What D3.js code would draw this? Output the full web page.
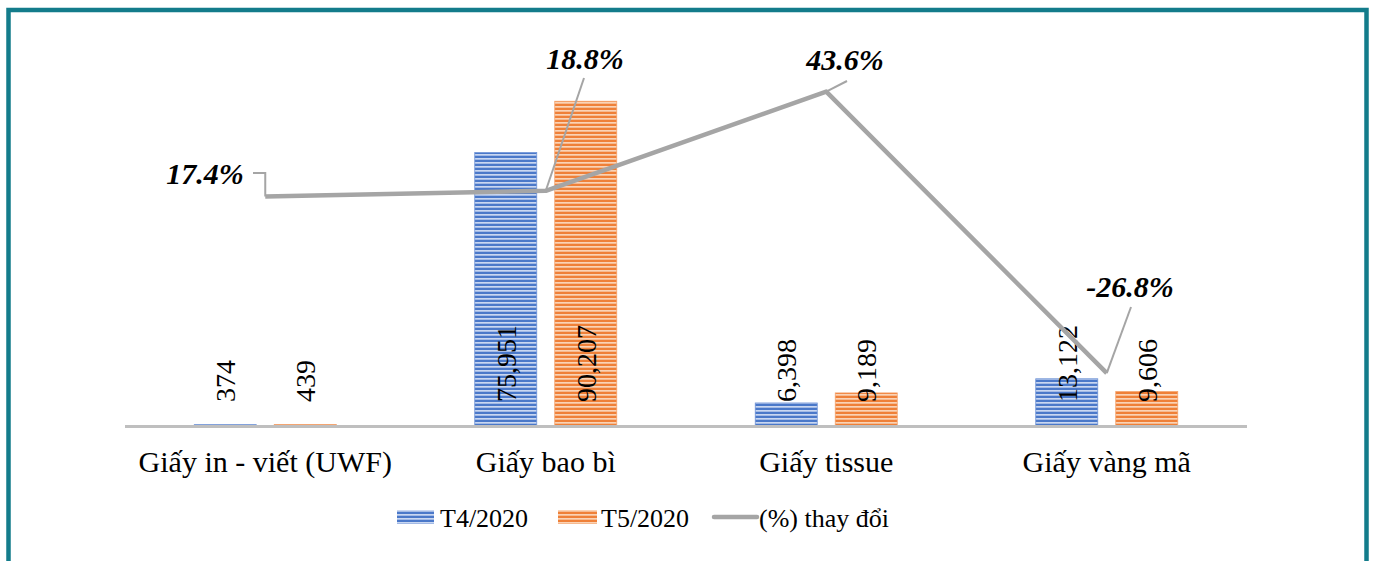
<!DOCTYPE html>
<html>
<head>
<meta charset="utf-8">
<script src="https://cdn.jsdelivr.net/npm/d3@7"></script>
<style>
  body { margin: 0; background: #fff; }
  svg text { font-family: "Liberation Serif", "Times New Roman", serif; fill: #000; }
</style>
</head>
<body>
<svg id="svg" width="1373" height="561"></svg>
<script>
// dữ liệu biểu đồ
const categories = ["Giấy in - viết (UWF)", "Giấy bao bì", "Giấy tissue", "Giấy vàng mã"];
const t4Values = [374, 75951, 6398, 13122];
const t5Values = [439, 90207, 9189, 9606];
const pctChange = [17.4, 18.8, 43.6, -26.8];
const seriesNames = ["T4/2020", "T5/2020", "(%) thay đổi"];

const svg = d3.select("#svg");

// khung viền
svg.append("rect")
  .attr("x", 8.5).attr("y", 10)
  .attr("width", 1358).attr("height", 570)
  .attr("fill", "none")
  .attr("stroke", "#137c8b")
  .attr("stroke-width", 4.5);

// hoa văn sọc ngang cho cột
const defs = svg.append("defs");
function stripe(id, dark, light) {
  const p = defs.append("pattern")
    .attr("id", id)
    .attr("patternUnits", "userSpaceOnUse")
    .attr("width", 8).attr("height", 4);
  p.append("rect").attr("width", 8).attr("height", 4).attr("fill", dark);
  p.append("rect").attr("y", 2).attr("width", 8).attr("height", 1.7).attr("fill", light);
}
stripe("blueStripe", "#4a78c9", "#c9d7f1");
stripe("orangeStripe", "#ef8038", "#fad3b6");

const x = d3.scaleBand().domain(categories).range([125, 1247]);
const y = d3.scaleLinear().domain([0, 100000]).range([426, 66]);
const y2 = d3.scaleLinear().domain([-40, 60]).range([426, 26]);
const cx = (i) => x(categories[i]) + x.bandwidth() / 2;

const barW = 62, offset = 40;

// cột
const series = [
  { vals: t4Values, fill: "url(#blueStripe)", edge: "#6f93d6", dx: -offset },
  { vals: t5Values, fill: "url(#orangeStripe)", edge: "#f4a26b", dx: offset }
];
series.forEach((s) => {
  svg.append("g").selectAll("rect")
    .data(s.vals)
    .join("rect")
    .attr("x", (d, i) => cx(i) + s.dx - barW / 2)
    .attr("y", (d) => y(d))
    .attr("width", barW)
    .attr("height", (d) => y(0) - y(d))
    .attr("fill", s.fill)
    .attr("stroke", s.edge)
    .attr("stroke-width", 0.8);
});

// trục ngang
svg.append("line")
  .attr("x1", 125).attr("x2", 1247)
  .attr("y1", y(0) + 0.5).attr("y2", y(0) + 0.5)
  .attr("stroke", "#bfbfbf").attr("stroke-width", 3);

// nhãn giá trị (xoay dọc)
const fmt = d3.format(",");
series.forEach((s) => {
  svg.append("g").selectAll("text")
    .data(s.vals)
    .join("text")
    .attr("transform", (d, i) => `translate(${cx(i) + s.dx + 10},${y(0) - 24}) rotate(-90)`)
    .attr("font-size", 28)
    .text((d) => fmt(d));
});

// nhãn danh mục
svg.append("g").selectAll("text")
  .data(categories)
  .join("text")
  .attr("x", (d) => x(d) + x.bandwidth() / 2)
  .attr("y", 472)
  .attr("text-anchor", "middle")
  .attr("font-size", 30)
  .text((d) => d);

// đường % thay đổi
const line = d3.line()
  .x((d, i) => cx(i))
  .y((d) => y2(d));
svg.append("path")
  .datum(pctChange)
  .attr("d", line)
  .attr("fill", "none")
  .attr("stroke", "#a5a5a5")
  .attr("stroke-width", 4.5)
  .attr("stroke-linejoin", "round");

// nhãn % và đường dẫn
const pctLabels = [
  { tx: 205, ty: 184, leader: (px, py) => `M 253 173 H ${px} V ${py}` },
  { tx: 585, ty: 69, leader: (px, py) => `M 584 78 L ${px} ${py}` },
  { tx: 845, ty: 70, leader: (px, py) => `M 847 81 L ${px} ${py}` },
  { tx: 1130, ty: 297, leader: (px, py) => `M 1131 307 L ${px} ${py}` }
];
pctChange.forEach((v, i) => {
  const lb = pctLabels[i];
  svg.append("path")
    .attr("d", lb.leader(cx(i), y2(v)))
    .attr("fill", "none")
    .attr("stroke", "#a5a5a5")
    .attr("stroke-width", 2);
  svg.append("text")
    .attr("x", lb.tx).attr("y", lb.ty)
    .attr("text-anchor", "middle")
    .attr("font-size", 30)
    .attr("font-weight", "bold")
    .attr("font-style", "italic")
    .text(v.toFixed(1) + "%");
});

// chú giải
const lg = svg.append("g").attr("font-size", 26);
lg.append("rect").attr("x", 397).attr("y", 510).attr("width", 37).attr("height", 14).attr("fill", "url(#blueStripe)");
lg.append("text").attr("x", 440).attr("y", 527).text(seriesNames[0]);
lg.append("rect").attr("x", 558).attr("y", 510).attr("width", 39).attr("height", 14).attr("fill", "url(#orangeStripe)");
lg.append("text").attr("x", 601).attr("y", 527).text(seriesNames[1]);
lg.append("line").attr("x1", 714).attr("x2", 757).attr("y1", 517).attr("y2", 517)
  .attr("stroke", "#a5a5a5").attr("stroke-width", 4.5).attr("stroke-linecap", "round");
lg.append("text").attr("x", 759).attr("y", 527).text(seriesNames[2]);
</script>
</body>
</html>
